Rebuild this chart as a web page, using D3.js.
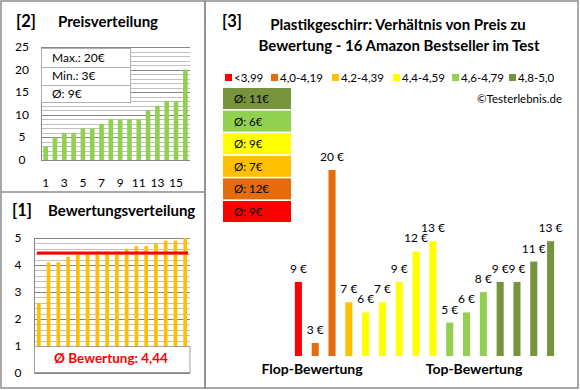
<!DOCTYPE html>
<html>
<head>
<script type="text/javascript" src="https://d3js.org/d3.v7.min.js"></script>
<style>
  body { margin: 0; background: #fff; font-family: Lato, "Open Sans", Arial; }
  text { fill: #000; }
</style>
</head>
<body>
<script>
// [2] price distribution (sorted)
var prices = [3, 5, 6, 6, 7, 7, 8, 9, 9, 9, 9, 11, 12, 13, 13, 20];
var priceTicks = [1, 3, 5, 7, 9, 11, 13, 15];
var priceStats = ["Max.: 20€", "Min.: 3€", "Ø: 9€"];

// [1] rating distribution (sorted)
var ratings = [2.6, 4.1, 4.1, 4.3, 4.4, 4.4, 4.5, 4.5, 4.5, 4.6, 4.7, 4.7, 4.8, 4.9, 4.9, 5.0];
var ratingAvg = 4.44;
var ratingAvgLabel = "Ø Bewertung: 4,44";

// [3] price by rating group
var groupLabels = ["<3,99", "4,0-4,19", "4,2-4,39", "4,4-4,59", "4,6-4,79", "4,8-5,0"];
var groupColors = ["#ff0000", "#e46c0a", "#ffc000", "#ffff00", "#92d050", "#77933c"];
var groupAvg = ["Ø: 9€", "Ø: 12€", "Ø: 7€", "Ø: 9€", "Ø: 6€", "Ø: 11€"];
var barPrices = [9, 3, 20, 7, 6, 7, 9, 12, 13, 5, 6, 8, 9, 9, 11, 13];
var barGroup = [0, 1, 1, 2, 3, 3, 3, 3, 3, 4, 4, 4, 5, 5, 5, 5];

var W = 580, H = 390;
var svg = d3.select("body").append("svg").attr("width", W).attr("height", H);

// panel frames
svg.append("rect").attr("x", 1).attr("y", 1).attr("width", 204).attr("height", 387)
  .attr("fill", "none").attr("stroke", "#8c8c8c").attr("stroke-width", 1.5);
svg.append("line").attr("x1", 1).attr("x2", 205).attr("y1", 192).attr("y2", 192)
  .attr("stroke", "#8c8c8c").attr("stroke-width", 1.5);
svg.append("rect").attr("x", 205).attr("y", 1).attr("width", 373).attr("height", 387)
  .attr("fill", "none").attr("stroke", "#8c8c8c").attr("stroke-width", 1.5);

function title(x, y, num, txt, tx) {
  svg.append("text").attr("x", x).attr("y", y).attr("font-size", 16.5).attr("font-weight", "bold").text(num);
  if (txt) svg.append("text").attr("x", tx).attr("y", y).attr("font-size", 15).attr("font-weight", "bold").text(txt);
}

// ---------- [2] Preisverteilung ----------
title(16, 27, "[2]", "Preisverteilung", 58);

var x2 = d3.scaleBand().domain(d3.range(1, 17)).range([41, 190]).paddingInner(0.5).paddingOuter(0.25);
var y2 = d3.scaleLinear().domain([0, 25]).range([160, 47]);

var g2 = svg.append("g");
g2.selectAll("line.minor").data(d3.range(0, 26)).enter().append("line")
  .attr("x1", 41).attr("x2", 190)
  .attr("y1", function(d) { return Math.round(y2(d)) + 0.5; })
  .attr("y2", function(d) { return Math.round(y2(d)) + 0.5; })
  .attr("stroke", function(d) { return d % 5 === 0 ? "#868686" : "#c0c0c0"; });
g2.append("line").attr("x1", 41.5).attr("x2", 41.5).attr("y1", y2(25)).attr("y2", y2(0)).attr("stroke", "#868686");

g2.selectAll("rect.bar").data(prices).enter().append("rect")
  .attr("x", function(d, i) { return x2(i + 1); })
  .attr("width", x2.bandwidth())
  .attr("y", function(d) { return y2(d); })
  .attr("height", function(d) { return y2(0) - y2(d); })
  .attr("fill", "#92d050");

g2.selectAll("text.yt").data(d3.range(0, 26, 5)).enter().append("text")
  .attr("x", 22).attr("y", function(d) { return y2(d) + 4; })
  .attr("text-anchor", "middle").attr("font-size", 12).text(function(d) { return d; });
g2.selectAll("text.xt").data(priceTicks).enter().append("text")
  .attr("x", function(d) { return x2(d) + x2.bandwidth() / 2; }).attr("y", 187)
  .attr("text-anchor", "middle").attr("font-size", 12).text(function(d) { return d; });

// stats box
var sb = g2.append("g");
sb.append("rect").attr("x", 41.5).attr("y", 48.5).attr("width", 89).attr("height", 54)
  .attr("fill", "#fff").attr("stroke", "#b0b0b0");
[67, 85].forEach(function(yy) {
  sb.append("line").attr("x1", 41.5).attr("x2", 130.5).attr("y1", yy + 0.5).attr("y2", yy + 0.5).attr("stroke", "#b0b0b0");
});
sb.selectAll("text").data(priceStats).enter().append("text")
  .attr("x", 52).attr("y", function(d, i) { return 62 + i * 18; })
  .attr("font-size", 12).text(function(d) { return d; });

// ---------- [1] Bewertungsverteilung ----------
title(12, 216, "[1]", "Bewertungsverteilung", 48);

var x1 = d3.scaleBand().domain(d3.range(1, 17)).range([34, 190]).paddingInner(0.62).paddingOuter(0.3);
var y1 = d3.scaleLinear().domain([0, 5]).range([373, 238]);

var g1 = svg.append("g");
g1.selectAll("line.grid").data(d3.range(0, 26)).enter().append("line")
  .attr("x1", 34).attr("x2", 190)
  .attr("y1", function(d) { return Math.round(y1(d / 5)) + 0.5; })
  .attr("y2", function(d) { return Math.round(y1(d / 5)) + 0.5; })
  .attr("stroke", function(d) { return d % 5 === 0 ? "#868686" : "#c0c0c0"; });
g1.append("line").attr("x1", 34.5).attr("x2", 34.5).attr("y1", y1(5)).attr("y2", y1(0)).attr("stroke", "#868686");

g1.selectAll("rect.bar").data(ratings).enter().append("rect")
  .attr("x", function(d, i) { return x1(i + 1); })
  .attr("width", x1.bandwidth())
  .attr("y", function(d) { return y1(d); })
  .attr("height", function(d) { return y1(0) - y1(d); })
  .attr("fill", "#ffc000");

g1.append("line").attr("x1", x1(1)).attr("x2", x1(16) + x1.bandwidth() + 1)
  .attr("y1", y1(ratingAvg)).attr("y2", y1(ratingAvg))
  .attr("stroke", "#ff0000").attr("stroke-width", 3);

g1.selectAll("text.yt").data(d3.range(0, 6)).enter().append("text")
  .attr("x", 18).attr("y", function(d) { return y1(d) + 4; })
  .attr("text-anchor", "middle").attr("font-size", 12).text(function(d) { return d; });

g1.append("rect").attr("x", 34.5).attr("y", Math.round(y1(1)) + 0.5).attr("width", 155.5)
  .attr("height", y1(0) - y1(1) - 1).attr("fill", "#fff").attr("stroke", "#a0a0a0");
g1.append("text").attr("x", 111).attr("y", 363).attr("text-anchor", "middle")
  .attr("font-size", 13.5).attr("font-weight", "bold").style("fill", "#ff0000").text(ratingAvgLabel);

// ---------- [3] Preis zu Bewertung ----------
title(222, 27, "[3]", null);
svg.append("text").attr("x", 398).attr("y", 30).attr("text-anchor", "middle")
  .attr("font-size", 15).attr("font-weight", "bold").text("Plastikgeschirr: Verhältnis von Preis zu");
svg.append("text").attr("x", 399).attr("y", 51).attr("text-anchor", "middle")
  .attr("font-size", 15).attr("font-weight", "bold").text("Bewertung - 16 Amazon Bestseller im Test");

// legend row
var legX = [225, 271, 332, 393, 452, 509];
var leg = svg.append("g");
leg.selectAll("rect").data(groupLabels).enter().append("rect")
  .attr("x", function(d, i) { return legX[i]; }).attr("y", 74).attr("width", 7).attr("height", 7)
  .attr("fill", function(d, i) { return groupColors[i]; });
leg.selectAll("text").data(groupLabels).enter().append("text")
  .attr("x", function(d, i) { return legX[i] + 9; }).attr("y", 82)
  .attr("font-size", 11.5).text(function(d) { return d; });

svg.append("text").attr("x", 562).attr("y", 103).attr("text-anchor", "end")
  .attr("font-size", 11.5).text("©Testerlebnis.de");

// average blocks, top = best group
var blocks = svg.append("g");
var order = d3.range(groupLabels.length).reverse();
blocks.selectAll("rect").data(order).enter().append("rect")
  .attr("x", 223).attr("y", function(d, i) { return 88 + i * 22.6; })
  .attr("width", 68).attr("height", 21)
  .attr("fill", function(d) { return groupColors[d]; });
blocks.selectAll("text").data(order).enter().append("text")
  .attr("x", 234).attr("y", function(d, i) { return 103 + i * 22.6; })
  .attr("font-size", 11.5).text(function(d) { return groupAvg[d]; });

// bars
var x3 = d3.scaleBand().domain(d3.range(barPrices.length)).range([290, 559]).paddingInner(0.58).paddingOuter(0.29);
var y3 = d3.scaleLinear().domain([1.72, 20]).range([356, 170]);

var g3 = svg.append("g");
g3.selectAll("rect").data(barPrices).enter().append("rect")
  .attr("x", function(d, i) { return x3(i); })
  .attr("width", x3.bandwidth())
  .attr("y", function(d) { return y3(d); })
  .attr("height", function(d) { return y3(1.72) - y3(d); })
  .attr("fill", function(d, i) { return groupColors[barGroup[i]]; });
g3.selectAll("text").data(barPrices).enter().append("text")
  .attr("x", function(d, i) { return x3(i) + x3.bandwidth() / 2; })
  .attr("y", function(d) { return y3(d) - 9; })
  .attr("text-anchor", "middle").attr("font-size", 12)
  .text(function(d) { return d + " €"; });

svg.append("text").attr("x", 312).attr("y", 374).attr("text-anchor", "middle")
  .attr("font-size", 14).attr("font-weight", "bold").text("Flop-Bewertung");
svg.append("text").attr("x", 474).attr("y", 374).attr("text-anchor", "middle")
  .attr("font-size", 14).attr("font-weight", "bold").text("Top-Bewertung");
</script>
</body>
</html>
